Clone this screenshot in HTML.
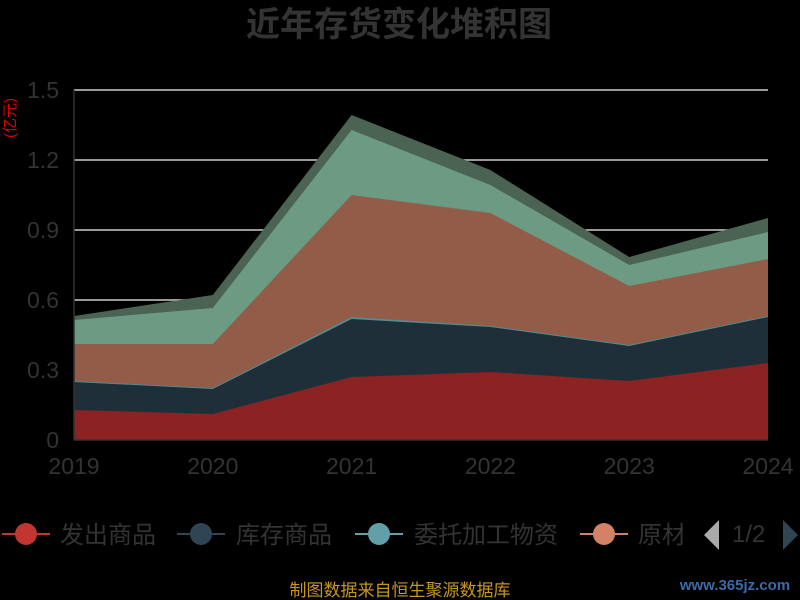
<!DOCTYPE html>
<html><head><meta charset="utf-8"><style>
body{margin:0;background:#000;width:800px;height:600px;overflow:hidden}
svg{display:block;font-family:"Liberation Sans","Noto Sans CJK SC",sans-serif}
</style></head><body>
<svg width="800" height="600" viewBox="0 0 800 600">
<rect width="800" height="600" fill="#000"/>
<text x="399" y="36" text-anchor="middle" font-size="34" font-weight="bold" fill="#333">近年存货变化堆积图</text>
<text x="15" y="118" font-size="15" fill="#d00" transform="rotate(-90 15 118)" text-anchor="middle">(亿元)</text>
<g stroke="#ccc" stroke-width="1.5">
<line x1="74" y1="90" x2="768" y2="90"/><line x1="74" y1="160" x2="768" y2="160"/>
<line x1="74" y1="230" x2="768" y2="230"/><line x1="74" y1="300" x2="768" y2="300"/>
<line x1="74" y1="370" x2="768" y2="370"/>
</g>
<polygon fill="#4b6352" points="74,316 212.8,295 351.6,115 490.4,170 629.2,257 768,218 768,440 74,440"/>
<polygon fill="#6c9a83" points="74,320 212.8,308 351.6,130 490.4,185 629.2,265 768,232 768,440 74,440"/>
<polygon fill="#935c49" points="74,344 212.8,344 351.6,195 490.4,213 629.2,286 768,259 768,440 74,440"/>
<polygon fill="#4e8e94" points="74,381 212.8,388 351.6,317 490.4,326 629.2,345 768,316 768,440 74,440"/>
<polygon fill="#1f2f3a" points="74,382 212.8,389 351.6,319 490.4,327 629.2,346 768,317 768,440 74,440"/>
<polygon fill="#8b2323" points="74,410 212.8,414 351.6,377 490.4,372 629.2,381 768,363 768,440 74,440"/>
<line x1="74" y1="90" x2="74" y2="440" stroke="#333" stroke-width="1.5"/>
<line x1="74" y1="440" x2="768" y2="440" stroke="#333" stroke-width="1.5"/>
<g fill="#333" font-size="23" text-anchor="end">
<text x="59" y="98">1.5</text><text x="59" y="168">1.2</text><text x="59" y="238">0.9</text>
<text x="59" y="308">0.6</text><text x="59" y="378">0.3</text><text x="59" y="448">0</text>
</g>
<g fill="#333" font-size="23" text-anchor="middle">
<text x="74" y="474">2019</text><text x="212.8" y="474">2020</text><text x="351.6" y="474">2021</text>
<text x="490.4" y="474">2022</text><text x="629.2" y="474">2023</text><text x="768" y="474">2024</text>
</g>
<g font-size="24" fill="#333">
<line x1="2" y1="534" x2="50" y2="534" stroke="#c23531" stroke-width="2"/><circle cx="26" cy="534" r="11" fill="#c23531"/>
<text x="60" y="543">发出商品</text>
<line x1="177" y1="534" x2="225" y2="534" stroke="#2f4554" stroke-width="2"/><circle cx="201" cy="534" r="11" fill="#2f4554"/>
<text x="236" y="543">库存商品</text>
<line x1="355" y1="534" x2="403" y2="534" stroke="#61a0a8" stroke-width="2"/><circle cx="379" cy="534" r="11" fill="#61a0a8"/>
<text x="414" y="543">委托加工物资</text>
<line x1="580" y1="534" x2="628" y2="534" stroke="#d48265" stroke-width="2"/><circle cx="604" cy="534" r="11" fill="#d48265"/>
<text x="638" y="543">原材</text>
<rect x="683" y="515" width="22" height="35" fill="#000"/>
<polygon points="719,520 719,550 704,535" fill="#aaa"/>
<text x="732" y="542">1/2</text>
<polygon points="783,520 783,550 798,535" fill="#2f4554"/>
</g>
<text x="400" y="596" text-anchor="middle" font-size="17" fill="#c8961e">制图数据来自恒生聚源数据库</text>
<text x="735" y="590" text-anchor="middle" font-size="15" font-weight="bold" fill="#3a6aa8">www.365jz.com</text>
</svg>
</body></html>
